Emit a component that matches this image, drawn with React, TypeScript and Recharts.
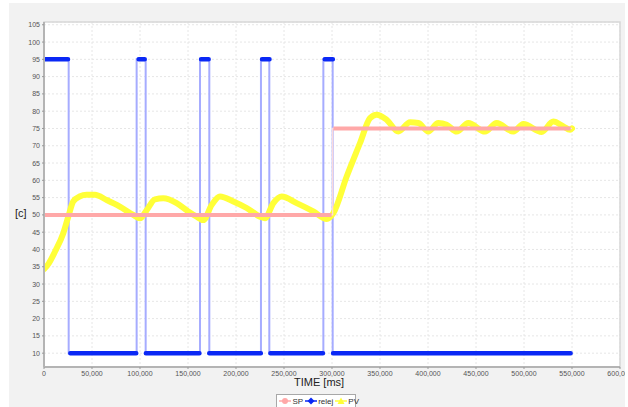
import { LineChart, Line, XAxis, YAxis, CartesianGrid, ReferenceArea } from 'recharts'

const xTicks = [0, 50000, 100000, 150000, 200000, 250000, 300000, 350000, 400000, 450000, 500000, 550000, 600000]
const yTicks = [10, 15, 20, 25, 30, 35, 40, 45, 50, 55, 60, 65, 70, 75, 80, 85, 90, 95, 100, 105]

// SP (setpoint)
const spTime = [0, 300700, 300700, 550000]
const spValue = [50, 50, 75, 75]
const spHold: [number, number, number][] = [
  [0, 299500, 50],
  [301500, 548600, 75],
]

// relej (relay state)
const relejTime = [
  0, 25700, 25700, 96500, 96500, 105900, 105900, 162500, 162500, 172200,
  172200, 226000, 226000, 234700, 234700, 291000, 291000, 300700, 300700, 550000,
]
const relejValue = [95, 95, 10, 10, 95, 95, 10, 10, 95, 95, 10, 10, 95, 95, 10, 10, 95, 95, 10, 10]
const relejHold: [number, number, number][] = [
  [0, 25000, 95],
  [27400, 96100, 10],
  [98600, 104900, 95],
  [106100, 161900, 10],
  [163600, 171500, 95],
  [172100, 225900, 10],
  [227100, 234900, 95],
  [235800, 290600, 10],
  [292400, 300900, 95],
  [301100, 548600, 10],
]

// PV (process value)
const pvTime = [
  0, 5000, 11500, 20100, 25300, 30500, 37000, 44500, 53000, 65300, 79000, 93000,
  100000, 107000, 115600, 124300, 138200, 150300, 159000, 166000, 174700, 183300,
  197200, 211100, 225000, 230200, 238900, 247600, 263200, 280500, 294500, 301400,
  315300, 329200, 339600, 346500, 357000, 369000, 381300, 390000, 400300, 410700,
  419500, 429900, 442000, 459400, 471500, 488900, 499300, 518400, 530500, 541000,
  548000, 550000,
]
const pvValue = [
  34.3, 36, 39.4, 44.7, 49.5, 53.9, 55.3, 55.8, 55.8, 54.3, 52.4, 50,
  49, 51.4, 54.5, 54.8, 53.4, 51, 49.5, 48.5, 52.9, 55.3,
  53.9, 52, 49.5, 49, 53.4, 55.3, 53.4, 51, 48.8, 50.5,
  61.1, 70.8, 78, 79, 77.5, 74.1, 76.8, 76.6, 74.1, 76.6,
  76.1, 74.1, 76.6, 74.1, 76.6, 74.1, 76.3, 74, 77, 75.6,
  74.6, 75,
]

const toPoints = (ts: number[], vs: number[]) => ts.map((t, i) => ({ t, v: vs[i] }))
const toHold = (segs: [number, number, number][]) =>
  segs.flatMap(([a, b, v]) => [{ t: a, v }, { t: b, v }, { t: b, v: null }])

const spLine = toPoints(spTime, spValue)
const spThick = toHold(spHold)
const relejLine = toPoints(relejTime, relejValue)
const relejThick = toHold(relejHold)
const pvLine = toPoints(pvTime, pvValue)

const font = '"Liberation Sans", Arial, sans-serif'
const tickStyle = { fill: '#555', fontSize: 7, fontFamily: font }

function LegendIcon({ color, shape }: { color: string; shape: 'circle' | 'diamond' | 'triangle' }) {
  return (
    <svg width={12} height={8} style={{ display: 'block', flex: 'none' }}>
      <line x1={0} y1={4} x2={12} y2={4} stroke={color} strokeWidth={1.5} />
      {shape === 'circle' && <circle cx={6} cy={4} r={3} fill={color} />}
      {shape === 'diamond' && <polygon points="6,0.5 9.5,4 6,7.5 2.5,4" fill={color} />}
      {shape === 'triangle' && <polygon points="6,0.5 9.5,7 2.5,7" fill={color} />}
    </svg>
  )
}

export default function App() {
  return (
    <div style={{ position: 'absolute', left: 0, top: 0, width: 628, height: 407, background: '#fff', overflow: 'hidden', fontFamily: font }}>
      <div style={{ position: 'absolute', left: 9, top: 3, width: 616, height: 404, background: '#f2f2f2' }} />
      <div style={{ position: 'absolute', left: 0, top: 0, width: 625, height: 407, overflow: 'hidden' }}>
        <LineChart width={625} height={407} margin={{ top: 22, right: 5, left: 14, bottom: 26 }}>
          <CartesianGrid fill="#fff" stroke="#e6e6e6" strokeDasharray="2 2" />
          <XAxis
            type="number"
            dataKey="t"
            domain={[0, 600000]}
            ticks={xTicks}
            interval={0}
            allowDataOverflow
            tickFormatter={v => v.toLocaleString('en-US')}
            tick={tickStyle}
            tickSize={2}
            tickMargin={2}
            height={14}
            axisLine={{ stroke: '#b4b4b4', strokeWidth: 2 }}
            tickLine={{ stroke: '#999' }}
          />
          <YAxis
            type="number"
            dataKey="v"
            domain={[6, 105.8]}
            ticks={yTicks}
            interval={0}
            allowDataOverflow
            tick={tickStyle}
            tickSize={2}
            tickMargin={2}
            width={30}
            axisLine={{ stroke: '#b4b4b4', strokeWidth: 2 }}
            tickLine={{ stroke: '#999' }}
          />
          <ReferenceArea x1={0} x2={600000} y1={6} y2={105.8} fill="none" stroke="#d8d8d8" strokeWidth={1.5} />
          <Line data={relejLine} dataKey="v" type="linear" stroke="#a6acff" strokeWidth={2} dot={false} isAnimationActive={false} />
          <Line data={relejThick} dataKey="v" type="linear" stroke="#0a28f5" strokeWidth={4.5} strokeLinecap="round" dot={false} connectNulls={false} isAnimationActive={false} />
          <Line data={pvLine} dataKey="v" type="monotone" stroke="#ffff38" strokeWidth={6} strokeLinecap="round" strokeLinejoin="round" dot={false} isAnimationActive={false} />
          <Line data={spLine} dataKey="v" type="linear" stroke="#ffdcdc" strokeWidth={1.2} dot={false} isAnimationActive={false} />
          <Line data={spThick} dataKey="v" type="linear" stroke="#ffa8a8" strokeWidth={4} dot={false} connectNulls={false} isAnimationActive={false} />
        </LineChart>
      </div>
      <div style={{ position: 'absolute', left: 15, top: 207, fontSize: 11, color: '#222' }}>[c]</div>
      <div style={{ position: 'absolute', left: 294, top: 376, fontSize: 11, color: '#222', whiteSpace: 'nowrap' }}>TIME [ms]</div>
      <div
        style={{
          position: 'absolute', left: 276, top: 394, width: 80, height: 14, boxSizing: 'border-box',
          border: '1px solid #a8a8a8', background: '#fff', display: 'flex', alignItems: 'center',
          gap: 1.5, paddingLeft: 2, fontSize: 8, color: '#333', whiteSpace: 'nowrap',
        }}
      >
        <LegendIcon color="#ffa8a8" shape="circle" />
        <span>SP</span>
        <LegendIcon color="#0a28f5" shape="diamond" />
        <span>relej</span>
        <LegendIcon color="#ffff38" shape="triangle" />
        <span>PV</span>
      </div>
    </div>
  )
}
